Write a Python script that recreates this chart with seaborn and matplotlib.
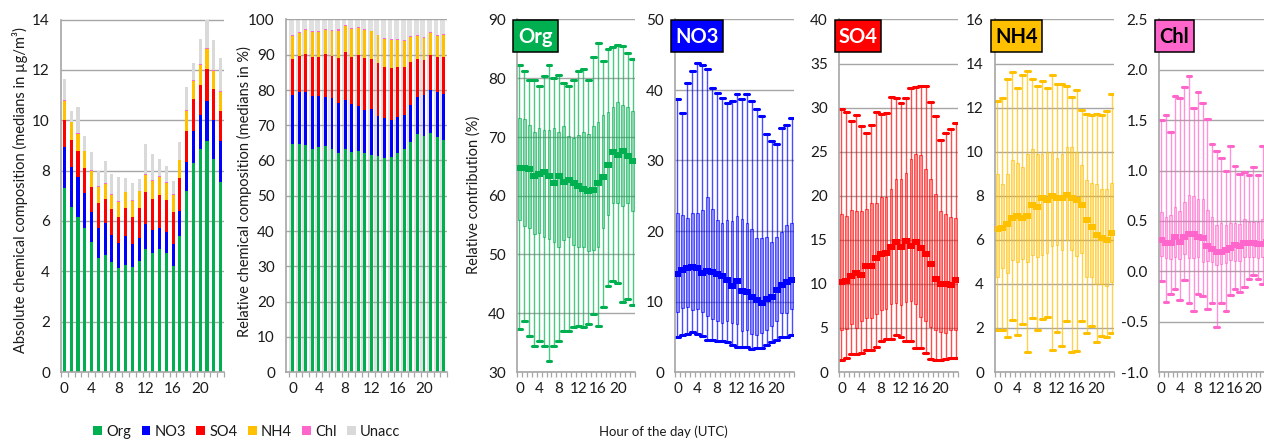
import numpy as np
import pandas as pd
import matplotlib
matplotlib.use("Agg")
import matplotlib.pyplot as plt
from matplotlib.patches import Patch, Rectangle
from matplotlib.colors import to_rgba
import seaborn as sns

# ---------------------------------------------------------------- data
hours = list(range(24))
species = ["Org", "NO3", "SO4", "NH4", "Chl", "Unacc"]
palette = {"Org": "#00B050", "NO3": "#0000FF", "SO4": "#FF0000",
           "NH4": "#FFC000", "Chl": "#FF66CC", "Unacc": "#D9D9D9"}

# absolute composition, hourly medians (µg/m3)
abs_org = [7.30, 6.54, 6.17, 5.72, 5.15, 4.54, 4.64, 4.37, 4.14, 4.23, 4.18, 4.42,
           4.88, 4.71, 4.88, 4.71, 4.22, 5.40, 7.18, 8.32, 8.86, 9.16, 8.47, 7.56]
abs_no3 = [1.62, 1.61, 1.59, 1.38, 1.22, 1.19, 1.26, 1.07, 0.97, 1.18, 0.92, 0.91,
           0.99, 0.93, 0.85, 0.86, 0.85, 1.00, 1.15, 1.26, 1.36, 1.59, 1.55, 1.62]
abs_so4 = [1.10, 1.07, 1.00, 1.02, 0.99, 1.00, 0.97, 1.02, 1.06, 1.12, 1.07, 1.20,
           1.26, 1.22, 1.30, 1.28, 1.30, 1.30, 1.25, 1.26, 1.19, 1.29, 1.22, 1.17]
abs_nh4 = [0.75, 0.69, 0.69, 0.64, 0.64, 0.62, 0.61, 0.57, 0.60, 0.60, 0.62, 0.64,
           0.70, 0.73, 0.73, 0.67, 0.66, 0.70, 0.77, 0.73, 0.80, 0.77, 0.73, 0.76]
abs_chl = [0.04, 0.03, 0.04, 0.03, 0.03, 0.03, 0.03, 0.03, 0.03, 0.03, 0.03, 0.03,
           0.03, 0.03, 0.03, 0.03, 0.03, 0.03, 0.04, 0.04, 0.04, 0.04, 0.04, 0.04]
abs_unacc = [0.84, 0.43, 1.03, 0.58, 0.72, 0.60, 0.87, 0.79, 0.95, 0.53, 0.67, 0.45,
             1.19, 1.02, 0.65, 0.63, 0.52, 0.72, 0.93, 0.66, 0.98, 1.15, 1.19, 1.32]

# relative contribution (%) statistics per hour: min, q1, median, q3, max
org_min = [37.3, 38.7, 36.2, 34.5, 35.2, 34.4, 31.9, 34.5, 35.2, 36.9, 36.9, 37.6,
           37.8, 37.7, 38.1, 39.8, 37.9, 41.1, 44.7, 45.5, 45.1, 42.0, 42.5, 41.4]
org_q1 = [55.8, 54.9, 54.5, 53.5, 53.7, 52.9, 52.7, 52.1, 51.2, 52.5, 52.9, 51.7,
          51.2, 51.3, 50.6, 50.8, 51.2, 54.5, 56.8, 58.8, 58.7, 58.2, 58.8, 57.4]
org_med = [64.8, 64.8, 64.5, 63.3, 63.7, 64.1, 63.3, 62.1, 63.4, 62.4, 62.6, 62.1,
           61.6, 61.2, 60.8, 60.9, 62.2, 63.2, 65.3, 67.5, 67.0, 67.7, 66.7, 65.9]
org_q3 = [73.3, 73.1, 72.0, 70.9, 71.6, 71.2, 71.2, 71.6, 70.9, 71.9, 70.2, 69.9,
          70.3, 70.9, 70.5, 71.8, 72.5, 73.7, 74.2, 75.1, 75.9, 75.4, 75.1, 74.4]
org_max = [82.3, 81.2, 79.7, 79.7, 78.6, 80.3, 82.3, 80.1, 80.5, 79.2, 78.6, 79.7,
           81.2, 81.6, 79.7, 83.6, 86.0, 82.9, 85.0, 85.3, 85.6, 85.5, 84.3, 83.2]

no3_min = [5.0, 5.3, 5.4, 5.7, 5.4, 5.1, 4.6, 4.5, 4.4, 4.4, 4.3, 3.8,
           3.5, 3.6, 3.5, 3.3, 3.4, 3.4, 3.9, 4.2, 4.5, 5.0, 5.0, 5.3]
no3_q1 = [8.5, 9.1, 9.2, 8.8, 9.0, 8.5, 8.0, 7.5, 7.2, 6.9, 7.3, 6.9,
          6.8, 5.8, 5.9, 5.4, 5.3, 5.6, 5.9, 6.5, 7.3, 8.3, 8.4, 9.0]
no3_med = [13.9, 14.5, 14.8, 14.9, 14.7, 14.0, 14.3, 14.2, 13.9, 13.6, 13.0, 12.2,
           12.9, 11.5, 11.3, 10.6, 10.2, 9.8, 10.4, 10.6, 11.6, 12.3, 12.8, 13.1]
no3_q3 = [22.6, 22.2, 21.9, 22.5, 22.6, 23.0, 24.8, 23.1, 21.6, 21.1, 21.5, 21.4,
          22.1, 21.7, 21.1, 20.3, 19.0, 19.0, 19.2, 18.4, 19.2, 19.9, 20.8, 21.1]
no3_max = [38.7, 36.8, 41.0, 42.7, 43.8, 43.5, 43.0, 40.3, 39.6, 38.8, 38.2, 38.4,
           39.4, 38.7, 39.5, 38.4, 37.3, 36.3, 33.7, 32.7, 32.3, 34.6, 35.0, 36.0]

so4_min = [1.4, 1.6, 2.0, 2.0, 2.1, 2.5, 2.5, 2.8, 3.5, 3.7, 3.8, 4.2,
           4.0, 3.5, 3.5, 2.7, 2.7, 2.1, 1.5, 1.4, 1.4, 1.5, 1.6, 1.6]
so4_q1 = [4.8, 4.9, 5.5, 5.0, 5.8, 6.1, 6.1, 6.6, 7.0, 7.1, 7.7, 7.8,
          7.6, 7.9, 8.1, 7.7, 6.2, 5.8, 5.1, 4.8, 4.5, 4.4, 4.8, 4.8]
so4_med = [10.2, 10.3, 10.9, 11.2, 11.0, 12.0, 12.0, 12.9, 13.4, 13.5, 14.2, 14.8,
           14.2, 14.9, 14.3, 14.8, 14.1, 13.4, 12.3, 10.6, 10.0, 10.0, 9.9, 10.4]
so4_q3 = [17.9, 17.7, 18.4, 18.3, 18.3, 18.5, 19.2, 19.2, 19.9, 19.9, 20.8, 21.9,
          21.9, 22.6, 24.2, 24.7, 24.6, 23.0, 21.9, 20.2, 18.3, 17.9, 17.6, 17.5]
so4_max = [29.8, 29.5, 28.5, 29.2, 27.9, 27.1, 28.0, 29.5, 29.3, 29.4, 31.2, 31.1,
           30.5, 31.1, 32.2, 32.3, 32.5, 32.4, 30.6, 29.1, 26.3, 27.1, 27.6, 28.3]

nh4_min = [1.9, 1.9, 1.6, 2.35, 1.7, 2.2, 0.9, 2.45, 1.9, 2.4, 2.5, 1.0,
           1.8, 1.2, 2.3, 0.9, 0.95, 2.3, 1.75, 2.1, 1.35, 1.65, 1.6, 1.75]
nh4_q1 = [4.3, 4.7, 4.5, 5.1, 5.0, 5.15, 5.0, 5.3, 5.2, 5.3, 5.4, 5.7,
          5.75, 5.55, 6.0, 5.55, 5.25, 5.4, 4.3, 4.3, 4.0, 4.0, 3.9, 4.1]
nh4_med = [6.5, 6.55, 6.7, 7.0, 7.1, 7.0, 7.1, 7.6, 7.5, 7.9, 7.8, 8.0,
           7.9, 7.9, 8.05, 7.9, 7.8, 7.6, 6.9, 6.6, 6.2, 6.1, 6.0, 6.3]
nh4_q3 = [9.0, 8.55, 9.0, 9.6, 9.5, 9.3, 9.9, 10.1, 9.9, 9.9, 10.0, 10.0,
          9.7, 9.9, 10.2, 10.2, 10.0, 9.4, 8.7, 8.6, 8.55, 8.3, 8.3, 8.6]
nh4_max = [12.3, 12.45, 13.3, 13.6, 12.9, 13.5, 13.65, 13.3, 13.0, 13.2, 12.9, 13.5,
           13.05, 13.05, 13.0, 12.5, 12.8, 11.9, 11.7, 11.65, 11.7, 11.65, 11.85, 12.6]

chl_min = [-0.10, -0.30, -0.23, -0.18, -0.29, -0.09, -0.31, -0.39, -0.23, -0.25, -0.37, -0.31,
           -0.55, -0.31, -0.39, -0.24, -0.18, -0.21, -0.16, -0.08, -0.04, -0.08, -0.13, -0.12]
chl_q1 = [0.15, 0.13, 0.12, 0.14, 0.12, 0.17, 0.13, 0.13, 0.14, 0.09, 0.10, 0.09,
          0.06, 0.07, 0.08, 0.11, 0.10, 0.10, 0.14, 0.14, 0.14, 0.13, 0.14, 0.14]
chl_med = [0.31, 0.28, 0.28, 0.34, 0.29, 0.34, 0.37, 0.37, 0.34, 0.33, 0.25, 0.22,
           0.19, 0.19, 0.21, 0.23, 0.26, 0.25, 0.28, 0.28, 0.28, 0.27, 0.27, 0.29]
chl_q3 = [0.59, 0.54, 0.56, 0.64, 0.60, 0.69, 0.76, 0.75, 0.72, 0.72, 0.61, 0.54,
          0.46, 0.48, 0.46, 0.48, 0.48, 0.47, 0.52, 0.49, 0.49, 0.49, 0.52, 0.50]
chl_max = [1.50, 1.55, 1.38, 1.74, 1.72, 1.83, 1.94, 1.62, 1.78, 1.67, 1.51, 1.26,
           1.19, 1.12, 1.00, 1.24, 1.05, 0.97, 0.99, 0.96, 1.04, 0.96, 1.24, 1.20]

# ---------------------------------------------------------------- style
sns.set_theme(style="white")
plt.rcParams["font.family"] = ["Lato", "DejaVu Sans"]
TEXT = "#1a1a1a"
GRID = "#a6a6a6"

W, H = 1264, 440
fig = plt.figure(figsize=(W / 100, H / 100), dpi=100)
TOP_PX, BOT_PX = 19.5, 372.0


def make_axes(x0, x1):
    return fig.add_axes([x0 / W, 1 - BOT_PX / H, (x1 - x0) / W, (BOT_PX - TOP_PX) / H])


def style_axes(ax, ylim, ystep, xlim, fmt=None):
    ax.set_ylim(*ylim)
    ax.set_yticks(np.arange(ylim[0], ylim[1] + ystep / 2, ystep))
    if fmt:
        ax.set_yticklabels([fmt.format(v) for v in ax.get_yticks()])
    ax.set_xlim(*xlim)
    ax.set_xticks(range(0, 24, 4))
    ax.set_xticklabels([str(h) for h in range(0, 24, 4)])
    ax.set_xticks(np.arange(-0.5, 24, 1), minor=True)
    ax.tick_params(axis="both", which="major", length=0, labelsize=11,
                   labelcolor=TEXT)
    ax.tick_params(axis="y", pad=8)
    ax.tick_params(axis="x", which="major", pad=7)
    ax.tick_params(axis="x", which="minor", length=3.5, width=0.9, color=GRID,
                   direction="out", bottom=True)
    ax.grid(axis="y", color=GRID, linewidth=1.0)
    ax.grid(axis="x", visible=False)
    ax.set_axisbelow(True)
    for s in ("top", "right"):
        ax.spines[s].set_visible(False)
    for s in ("left", "bottom"):
        ax.spines[s].set_color(GRID)
        ax.spines[s].set_linewidth(1.2)
    ax.set_xlabel("")
    ax.set_ylabel("")


def stacked_overlay(ax, layers, width):
    """Draw stacked bars by overlaying cumulative totals, tallest first."""
    df = pd.DataFrame(layers, index=hours)
    cum = df.cumsum(axis=1)
    for name in reversed(list(df.columns)):
        sns.barplot(x=hours, y=cum[name].values, color=palette[name], width=width,
                    saturation=1, errorbar=None, linewidth=0, ax=ax)


# ---------------------------------------------------------------- absolute stack
ax1 = make_axes(61, 224)
stacked_overlay(ax1, {"Org": abs_org, "NO3": abs_no3, "SO4": abs_so4,
                      "NH4": abs_nh4, "Chl": abs_chl, "Unacc": abs_unacc}, 0.45)
style_axes(ax1, (0, 14), 2, (-0.4, 23.4))

# ---------------------------------------------------------------- relative stack
ax2 = make_axes(286, 447)
rel = {"Org": org_med, "NO3": no3_med, "SO4": so4_med, "NH4": nh4_med, "Chl": chl_med}
stacked_overlay(ax2, rel, 0.45)
# unaccounted share fills each column up to 100 %
ax2.bar(np.array(hours) - 0.17, [100] * 24, width=0.74, color="#E0E0E0",
        linewidth=0, zorder=0.3)
style_axes(ax2, (0, 100), 10, (-1.0, 23.5))

# ---------------------------------------------------------------- box panels
box_specs = [
    ("Org", 517, 635, (-0.45, 23.5), (30, 90), 10, None,
     (org_min, org_q1, org_med, org_q3, org_max), "white", 45),
    ("NO3", 675, 794, (-0.4, 23.45), (0, 50), 10, None,
     (no3_min, no3_q1, no3_med, no3_q3, no3_max), "white", 52),
    ("SO4", 839, 958, (-0.4, 23.5), (0, 40), 5, None,
     (so4_min, so4_q1, so4_med, so4_q3, so4_max), "white", 46),
    ("NH4", 995, 1114, (-0.35, 23.5), (0, 16), 2, None,
     (nh4_min, nh4_q1, nh4_med, nh4_q3, nh4_max), "black", 51),
    ("Chl", 1159, 1271, (-0.2, 23.8), (-1.0, 2.5), 0.5, "{:.1f}",
     (chl_min, chl_q1, chl_med, chl_q3, chl_max), "black", 39),
]

median_marker = [(-1.35, -1.0), (1.35, -1.0), (1.35, 1.0), (-1.35, 1.0), (-1.35, -1.0)]

for name, x0, x1, xlim, ylim, ystep, fmt, (lo, q1, med, q3, hi), tcol, bw in box_specs:
    ax = make_axes(x0, x1)
    col = palette[name]
    stats = [dict(whislo=a, q1=b, med=c, q3=d, whishi=e, label=str(h))
             for h, a, b, c, d, e in zip(hours, lo, q1, med, q3, hi)]
    ax.bxp(stats, positions=hours, widths=0.55, capwidths=1.0, showfliers=False,
           patch_artist=True, manage_ticks=False,
           boxprops=dict(facecolor=to_rgba(col, 0.45), edgecolor=to_rgba(col, 0.6),
                         linewidth=0.8),
           whiskerprops=dict(color=to_rgba(col, 0.7), linewidth=1.0),
           capprops=dict(color=col, linewidth=2.2),
           medianprops=dict(linewidth=0))
    sns.scatterplot(x=hours, y=med, marker=median_marker, s=30, color=col,
                    edgecolor=col, linewidth=0, ax=ax, zorder=5)
    style_axes(ax, ylim, ystep, xlim, fmt)

    # species tag in the upper-left corner
    left_px, top_px, h_px = x0 - 4, TOP_PX + 0.5, 32
    fig.add_artist(Rectangle((left_px / W, 1 - (top_px + h_px) / H), bw / W, h_px / H,
                             transform=fig.transFigure, facecolor=col,
                             edgecolor="black", linewidth=1.1, zorder=10))
    fig.text((left_px + bw / 2) / W, 1 - (top_px + h_px / 2 + 1) / H, name,
             ha="center", va="center", fontsize=14.5, fontweight="bold",
             color=tcol, zorder=11)

# ---------------------------------------------------------------- labels
fig.text(20 / W, 1 - 190 / H, "Absolute chemical composition (medians in µg/m³)",
         rotation=90, ha="center", va="center", fontsize=10.5, color=TEXT)
fig.text(244 / W, 1 - 192 / H, "Relative chemical composition (medians in %)",
         rotation=90, ha="center", va="center", fontsize=10.5, color=TEXT)
fig.text(474 / W, 1 - 195 / H, "Relative contribution (%)",
         rotation=90, ha="center", va="center", fontsize=10.5, color=TEXT)
fig.text(663 / W, 1 - 432 / H, "Hour of the day (UTC)",
         ha="center", va="center", fontsize=9.5, color=TEXT)

handles = [Patch(facecolor=palette[s], edgecolor="none", label=s) for s in species]
fig.legend(handles=handles, loc="center", bbox_to_anchor=(247 / W, 1 - 432 / H),
           ncol=6, frameon=False, fontsize=10.5, handlelength=0.6, handleheight=0.6,
           handletextpad=0.3, columnspacing=0.7, labelcolor=TEXT)

fig.savefig("out.png", dpi=100)
